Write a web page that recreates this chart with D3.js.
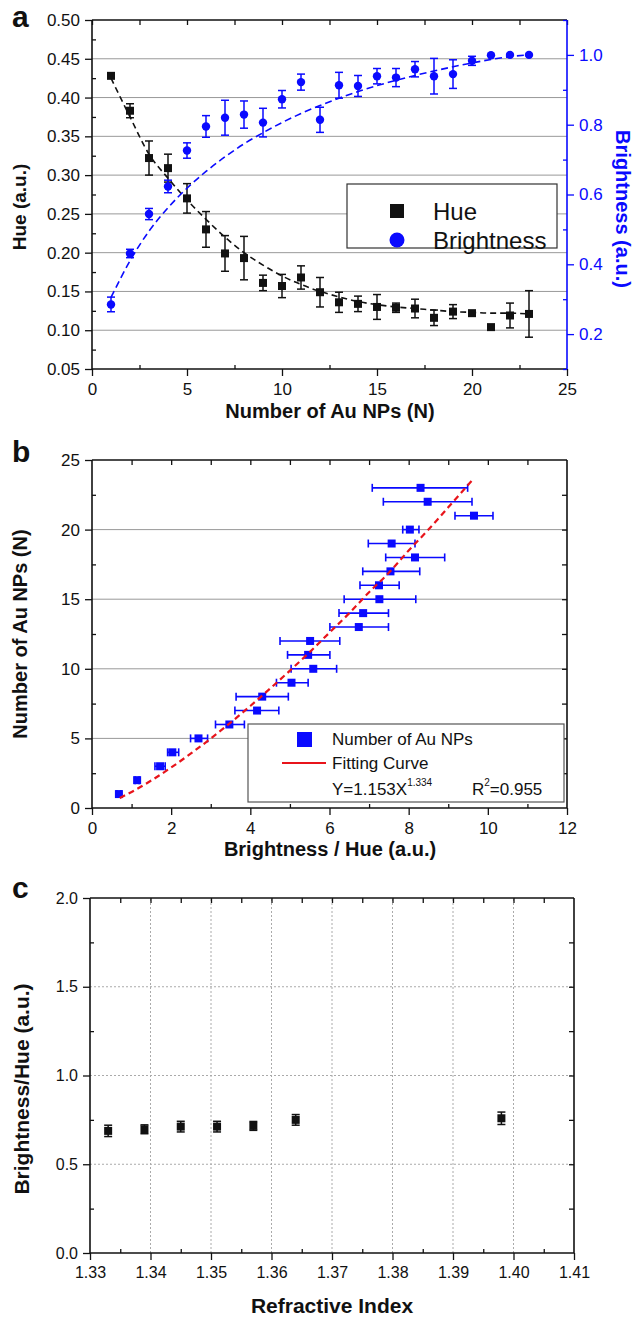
<!DOCTYPE html>
<html>
<head>
<meta charset="utf-8">
<script src="https://cdn.jsdelivr.net/npm/d3@7"></script>
<style>
  body { margin: 0; background: #fff; }
  svg { display: block; font-family: "Liberation Sans", Arial, sans-serif; }
</style>
</head>
<body>
<svg id="fig" width="636" height="1318"></svg>
<script>
// ---- panel a: hue / brightness vs number of Au NPs
const aN = [1,2,3,4,5,6,7,8,9,10,11,12,13,14,15,16,17,18,19,20,21,22,23];
const hue = [0.428,0.383,0.322,0.309,0.270,0.230,0.199,0.193,0.161,0.157,0.168,0.149,0.136,0.134,0.130,0.129,0.128,0.116,0.124,0.122,0.104,0.119,0.121];
const hueErr = [0.003,0.009,0.022,0.018,0.019,0.023,0.023,0.028,0.010,0.015,0.015,0.019,0.013,0.010,0.016,0.006,0.012,0.010,0.009,0.003,0,0.016,0.030];
const bright = [0.285,0.431,0.544,0.623,0.726,0.795,0.820,0.829,0.806,0.873,0.922,0.814,0.913,0.911,0.939,0.935,0.959,0.939,0.945,0.983,0.999,1.0,1.0];
const brightErr = [0.021,0.012,0.016,0.018,0.022,0.031,0.050,0.039,0.041,0.025,0.023,0.036,0.037,0.030,0.022,0.026,0.022,0.051,0.041,0.013,0,0,0];
const hueFit = [0.425,0.375,0.327,0.296,0.268,0.243,0.220,0.200,0.184,0.170,0.159,0.150,0.143,0.137,0.133,0.130,0.128,0.126,0.124,0.123,0.122,0.122,0.121];
const brightFit = [0.305,0.410,0.495,0.562,0.618,0.666,0.708,0.745,0.777,0.806,0.832,0.855,0.876,0.895,0.912,0.927,0.941,0.954,0.966,0.977,0.987,0.995,1.0];
const aXTicks = [0,5,10,15,20,25];
const aHueTicks = [0.05,0.10,0.15,0.20,0.25,0.30,0.35,0.40,0.45,0.50];
const aBrightTicks = [0.2,0.4,0.6,0.8,1.0];

// ---- panel b: N vs brightness/hue
const bN = [1,2,3,4,5,6,7,8,9,10,11,12,13,14,15,16,17,18,19,20,21,22,23];
const bRatio = [0.68,1.14,1.72,2.03,2.69,3.47,4.17,4.30,5.04,5.59,5.46,5.51,6.74,6.85,7.26,7.25,7.54,8.16,7.57,8.03,9.65,8.48,8.30];
const bLo = [0.63,1.09,1.59,1.91,2.49,3.12,3.61,3.64,4.66,5.03,4.94,4.75,6.01,6.24,6.37,6.77,6.84,7.42,6.98,7.85,9.17,7.36,7.08];
const bHi = [0.73,1.19,1.85,2.19,2.92,3.85,4.72,4.96,5.46,6.18,6.01,6.26,7.49,7.49,8.18,7.76,8.28,8.91,8.16,8.26,10.13,9.60,9.49];
const fitX = [0.7,1,1.5,2,2.5,3,3.5,4,4.5,5,5.5,6,6.5,7,7.5,8,8.5,9,9.65];
const fitY = [0.72,1.15,1.98,2.91,3.92,4.99,6.13,7.33,8.58,9.87,11.2,12.6,14.0,15.5,16.9,18.5,20.0,21.6,23.7];
const bXTicks = [0,2,4,6,8,10,12];
const bYTicks = [0,5,10,15,20,25];

// ---- panel c: brightness/hue vs refractive index
const cRI = [1.333,1.339,1.345,1.351,1.357,1.364,1.398];
const cRatio = [0.688,0.697,0.712,0.712,0.716,0.750,0.759];
const cErr = [0.032,0.025,0.030,0.030,0.025,0.030,0.035];
const cXTicks = [1.33,1.34,1.35,1.36,1.37,1.38,1.39,1.40,1.41];
const cYTicks = [0,0.5,1.0,1.5,2.0];

const svg = d3.select("#fig");
const BLUE = "#0a0aff", INK = "#111";

function axisGroup(axis, tr, color, fs) {
  const a = svg.append("g").attr("transform", tr).call(axis);
  a.select(".domain").remove();
  a.selectAll("line").attr("stroke", color).attr("stroke-width", 1.3);
  a.selectAll("text").attr("font-size", fs).attr("fill", color).attr("font-family", "Liberation Sans, Arial, sans-serif");
  return a;
}

function frame(x, y, o) {
  const [x0, x1] = x.range(), [yb, yt] = y.range();
  const fs = o.fs || 16;
  // bottom majors (outward, labelled) + minors (inward)
  axisGroup(d3.axisBottom(x).tickValues(o.xMajor).tickSize(7).tickPadding(7).tickFormat(o.xFmt), `translate(0,${yb})`, INK, fs);
  axisGroup(d3.axisBottom(x).tickValues(o.xMinor).tickSize(-4).tickFormat(""), `translate(0,${yb})`, INK, fs);
  axisGroup(d3.axisTop(x).tickValues(o.xTop).tickSize(-5).tickFormat(""), `translate(0,${yt})`, INK, fs);
  axisGroup(d3.axisLeft(y).tickValues(o.yMajor).tickSize(7).tickPadding(5).tickFormat(o.yFmt), `translate(${x0},0)`, INK, fs);
  axisGroup(d3.axisLeft(y).tickValues(o.yMinor).tickSize(-4).tickFormat(""), `translate(${x0},0)`, INK, fs);
  if (o.yRight) axisGroup(d3.axisRight(y).tickValues(o.yRight).tickSize(-5).tickFormat(""), `translate(${x1},0)`, INK, fs);
  const f = svg.append("g").attr("stroke-width", 1.6).attr("fill", "none");
  f.append("line").attr("x1", x0).attr("x2", x1).attr("y1", yb).attr("y2", yb).attr("stroke", INK);
  f.append("line").attr("x1", x0).attr("x2", x1).attr("y1", yt).attr("y2", yt).attr("stroke", INK);
  f.append("line").attr("x1", x0).attr("x2", x0).attr("y1", yb).attr("y2", yt).attr("stroke", INK);
  f.append("line").attr("x1", x1).attr("x2", x1).attr("y1", yb).attr("y2", yt).attr("stroke", o.rightColor || INK);
}

function hgrid(x, y, vals, dash, color) {
  svg.append("g").selectAll("line").data(vals).join("line")
    .attr("x1", x.range()[0]).attr("x2", x.range()[1])
    .attr("y1", d => y(d)).attr("y2", d => y(d))
    .attr("stroke", color).attr("stroke-width", 1).attr("stroke-dasharray", dash);
}
function vgrid(x, y, vals, dash, color) {
  svg.append("g").selectAll("line").data(vals).join("line")
    .attr("y1", y.range()[0]).attr("y2", y.range()[1])
    .attr("x1", d => x(d)).attr("x2", d => x(d))
    .attr("stroke", color).attr("stroke-width", 1).attr("stroke-dasharray", dash);
}
function label(txt, x, y, fs, opt = {}) {
  const t = svg.append("text").attr("x", x).attr("y", y).attr("font-size", fs)
    .attr("font-weight", opt.weight || "bold").attr("fill", opt.fill || INK)
    .attr("text-anchor", opt.anchor || "middle").text(txt);
  if (opt.rotate) t.attr("transform", `rotate(${opt.rotate},${x},${y})`);
  return t;
}
function vErrBars(x, y, xs, ys, es, color, cap) {
  const d = xs.map((v, i) => ({ x: v, y: ys[i], e: es[i] })).filter(d => d.e > 0);
  const g = svg.append("g").attr("stroke", color).attr("stroke-width", 1.5);
  g.selectAll(".s").data(d).join("line").attr("x1", d => x(d.x)).attr("x2", d => x(d.x))
    .attr("y1", d => y(d.y - d.e)).attr("y2", d => y(d.y + d.e));
  g.selectAll(".t").data(d).join("line").attr("x1", d => x(d.x) - cap).attr("x2", d => x(d.x) + cap)
    .attr("y1", d => y(d.y + d.e)).attr("y2", d => y(d.y + d.e));
  g.selectAll(".b").data(d).join("line").attr("x1", d => x(d.x) - cap).attr("x2", d => x(d.x) + cap)
    .attr("y1", d => y(d.y - d.e)).attr("y2", d => y(d.y - d.e));
}
function squares(x, y, xs, ys, s, color) {
  svg.append("g").selectAll("rect").data(xs.map((v, i) => [v, ys[i]])).join("rect")
    .attr("x", d => x(d[0]) - s / 2).attr("y", d => y(d[1]) - s / 2)
    .attr("width", s).attr("height", s).attr("fill", color);
}

// ================= panel a
const ax = d3.scaleLinear().domain([0, 25]).range([92, 567]);
const ayH = d3.scaleLinear().domain([0.05, 0.50]).range([369, 20]);
const ayB = d3.scaleLinear().domain([0.1, 1.1]).range([369, 20]);

hgrid(ax, ayH, aHueTicks.slice(1, -1), null, "#999");
frame(ax, ayH, {
  xMajor: aXTicks, xMinor: [2.5, 7.5, 12.5, 17.5, 22.5], xTop: d3.range(0, 25.1, 2.5), xFmt: d3.format("d"),
  yMajor: aHueTicks, yMinor: d3.range(0.075, 0.5, 0.05), yFmt: d3.format(".2f"), rightColor: BLUE, fs: 17
});
axisGroup(d3.axisRight(ayB).tickValues(aBrightTicks).tickSize(7).tickPadding(5).tickFormat(d3.format(".1f")), "translate(567,0)", BLUE, 17);
axisGroup(d3.axisRight(ayB).tickValues([0.1, 0.3, 0.5, 0.7, 0.9, 1.1]).tickSize(-4).tickFormat(""), "translate(567,0)", BLUE, 17);

vErrBars(ax, ayH, aN, hue, hueErr, INK, 4);
vErrBars(ax, ayB, aN, bright, brightErr, BLUE, 4);

const lineH = d3.line().x((d, i) => ax(aN[i])).y(d => ayH(d)).curve(d3.curveMonotoneX);
const lineB = d3.line().x((d, i) => ax(aN[i])).y(d => ayB(d)).curve(d3.curveMonotoneX);
svg.append("path").attr("d", lineH(hueFit)).attr("fill", "none").attr("stroke", INK).attr("stroke-width", 1.6).attr("stroke-dasharray", "6,4");
svg.append("path").attr("d", lineB(brightFit)).attr("fill", "none").attr("stroke", BLUE).attr("stroke-width", 1.6).attr("stroke-dasharray", "7,4");

squares(ax, ayH, aN, hue, 8, INK);
svg.append("g").selectAll("circle").data(aN).join("circle")
  .attr("cx", d => ax(d)).attr("cy", (d, i) => ayB(bright[i])).attr("r", 4.2).attr("fill", BLUE);

// legend a
svg.append("rect").attr("x", 347).attr("y", 184).attr("width", 210).attr("height", 64)
  .attr("fill", "#fff").attr("stroke", "#333").attr("stroke-width", 1.2);
svg.append("rect").attr("x", 390).attr("y", 204).attr("width", 14).attr("height", 14).attr("fill", INK);
svg.append("circle").attr("cx", 397).attr("cy", 240).attr("r", 7.5).attr("fill", BLUE);
label("Hue", 433, 220, 24, { anchor: "start", weight: "normal" });
label("Brightness", 433, 249, 24, { anchor: "start", weight: "normal" });

label("a", 12, 27, 30, { anchor: "start" });
label("Hue (a.u.)", 26, 207, 19, { rotate: -90 });
label("Number of Au NPs (N)", 330, 418, 20);
label("Brightness (a.u.)", 616, 209, 20, { rotate: 90, fill: BLUE });

// ================= panel b
const bx = d3.scaleLinear().domain([0, 12]).range([92, 567]);
const by = d3.scaleLinear().domain([0, 25]).range([808, 460]);

hgrid(bx, by, [5, 10, 15, 20], null, "#999");
frame(bx, by, {
  xMajor: bXTicks, xMinor: [1, 3, 5, 7, 9, 11], xTop: d3.range(1, 12, 1), xFmt: d3.format("d"),
  yMajor: bYTicks, yMinor: [2.5, 7.5, 12.5, 17.5, 22.5], yFmt: d3.format("d"),
  yRight: [2.5, 5, 7.5, 10, 12.5, 15, 17.5, 20, 22.5], fs: 17
});

const bErr = svg.append("g").attr("stroke", BLUE).attr("stroke-width", 1.6);
bErr.selectAll(".s").data(bN).join("line")
  .attr("x1", (d, i) => bx(bLo[i])).attr("x2", (d, i) => bx(bHi[i])).attr("y1", d => by(d)).attr("y2", d => by(d));
bErr.selectAll(".l").data(bN).join("line")
  .attr("x1", (d, i) => bx(bLo[i])).attr("x2", (d, i) => bx(bLo[i])).attr("y1", d => by(d) - 4).attr("y2", d => by(d) + 4);
bErr.selectAll(".r").data(bN).join("line")
  .attr("x1", (d, i) => bx(bHi[i])).attr("x2", (d, i) => bx(bHi[i])).attr("y1", d => by(d) - 4).attr("y2", d => by(d) + 4);
squares(bx, by, bRatio, bN, 8, BLUE);

const fitLine = d3.line().x((d, i) => bx(fitX[i])).y(d => by(d)).curve(d3.curveMonotoneX);
svg.append("path").attr("d", fitLine(fitY)).attr("fill", "none").attr("stroke", "#e8141b")
  .attr("stroke-width", 2.2).attr("stroke-dasharray", "6,4");

// legend b
svg.append("rect").attr("x", 248).attr("y", 724).attr("width", 316).attr("height", 78)
  .attr("fill", "#fff").attr("stroke", "#555").attr("stroke-width", 1.2);
svg.append("rect").attr("x", 297).attr("y", 732).attr("width", 15).attr("height", 15).attr("fill", BLUE);
svg.append("line").attr("x1", 282).attr("x2", 326).attr("y1", 763).attr("y2", 763).attr("stroke", "#e8141b").attr("stroke-width", 2);
label("Number of Au NPs", 332, 745, 17, { anchor: "start", weight: "normal" });
label("Fitting Curve", 332, 769, 17, { anchor: "start", weight: "normal" });
const eq = label("", 332, 795, 17, { anchor: "start", weight: "normal" });
eq.append("tspan").text("Y=1.153X");
eq.append("tspan").attr("font-size", 10).attr("dy", -9).text("1.334");
eq.append("tspan").attr("x", 472).attr("dy", 9).text("R");
eq.append("tspan").attr("font-size", 10).attr("dy", -9).text("2");
eq.append("tspan").attr("dy", 9).text("=0.955");

label("b", 12, 462, 30, { anchor: "start" });
label("Number of Au NPs (N)", 27, 634, 20, { rotate: -90 });
label("Brightness / Hue (a.u.)", 330, 856, 20);

// ================= panel c
const cx = d3.scaleLinear().domain([1.33, 1.41]).range([90, 574]);
const cy = d3.scaleLinear().domain([0, 2]).range([1253, 898]);

hgrid(cx, cy, [0.5, 1.0, 1.5], "2,2", "#aaa");
vgrid(cx, cy, cXTicks.slice(1, -1), "2,2", "#aaa");
frame(cx, cy, {
  xMajor: cXTicks, xMinor: d3.range(1.335, 1.41, 0.01), xTop: d3.range(1.335, 1.41, 0.005), xFmt: d3.format(".2f"),
  yMajor: cYTicks, yMinor: [0.25, 0.75, 1.25, 1.75], yFmt: d3.format(".1f"),
  yRight: [0.25, 0.5, 0.75, 1.0, 1.25, 1.5, 1.75], fs: 16
});
vErrBars(cx, cy, cRI, cRatio, cErr, INK, 4);
squares(cx, cy, cRI, cRatio, 8, INK);

label("c", 12, 898, 30, { anchor: "start" });
label("Brightness/Hue (a.u.)", 29, 1089, 21, { rotate: -90 });
label("Refractive Index", 332, 1313, 21);
</script>
</body>
</html>
